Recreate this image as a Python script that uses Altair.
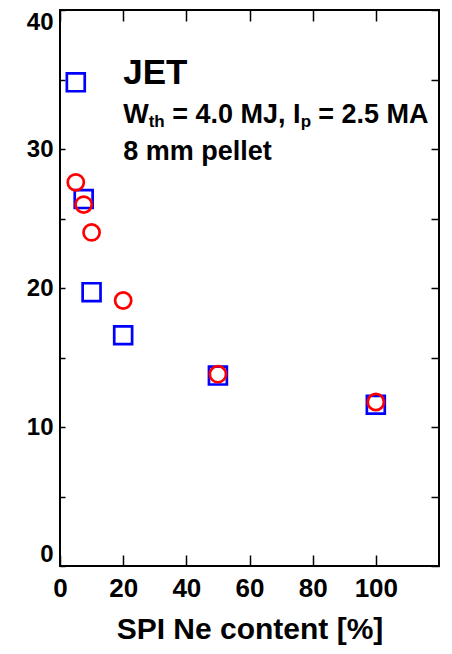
import altair as alt
import pandas as pd

# ---- data ----
ne_square = [5, 7.5, 10, 20, 50, 100]
val_square = [34.8, 26.4, 19.7, 16.6, 13.7, 11.6]
ne_circle = [5, 7.5, 10, 20, 50, 100]
val_circle = [27.6, 26.0, 24.0, 19.1, 13.8, 11.8]

x_ticks = [0, 20, 40, 60, 80, 100]
y_ticks = [0, 5, 10, 15, 20, 25, 30, 35, 40]
x_domain = [0, 120]
y_domain = [0, 40]

x_title = "SPI Ne content [%]"
ann_x = 20
ann_y = [34.7, 31.9, 29.2]
ann_line1 = "JET"
ann_line2 = ["W", "th", "= 4.0 MJ, I", "p", "= 2.5 MA"]
ann_line3 = "8 mm pellet"

FONT = "Liberation Sans, Arial, Helvetica, sans-serif"

sq = pd.DataFrame({"ne": ne_square, "val": val_square})
ci = pd.DataFrame({"ne": ne_circle, "val": val_circle})

xs = alt.Scale(domain=x_domain, nice=False, zero=False)
ys = alt.Scale(domain=y_domain, nice=False)

common_tick = dict(domain=False, grid=False, tickColor="black", tickWidth=1.5)

x_bottom = alt.Axis(orient="bottom", values=x_ticks, offset=-11, tickSize=11,
                    labelFont=FONT, labelFontSize=26, labelFontWeight="bold",
                    labelColor="black", labelPadding=9, labelFlush=False,
                    labelOverlap=False,
                    title=x_title, titleFont=FONT, titleFontSize=30,
                    titleFontWeight="bold", titleColor="black", titlePadding=13,
                    **common_tick)
x_top = alt.Axis(orient="top", values=x_ticks, offset=-11, tickSize=11,
                 labels=False, **common_tick)
y_left = alt.Axis(orient="left", values=y_ticks, offset=-5, tickSize=5,
                  labelFont=FONT, labelFontSize=24, labelFontWeight="bold",
                  labelColor="black", labelPadding=7, labelFlush=True,
                  labelOverlap=False,
                  labelExpr="datum.value % 10 === 0 ? datum.label : ''",
                  **common_tick)
y_right = alt.Axis(orient="right", values=y_ticks, offset=-8, tickSize=8,
                   labels=False, **common_tick)

squares = alt.Chart(sq).mark_point(
    shape="square", filled=False, size=320, strokeWidth=2.7,
    color="#0000ff", opacity=1
).encode(
    x=alt.X("ne:Q", scale=xs, axis=x_bottom),
    y=alt.Y("val:Q", scale=ys, axis=y_left, title=None),
)

circles = alt.Chart(ci).mark_point(
    shape="circle", filled=False, size=260, strokeWidth=2.7,
    color="#ff0000", opacity=1
).encode(
    x=alt.X("ne:Q", scale=xs, axis=x_top, title=None),
    y=alt.Y("val:Q", scale=ys, axis=y_right, title=None),
)


def text_layer(text, yval, size, dx=0, dy=0):
    df = pd.DataFrame({"x": [ann_x], "y": [yval]})
    return alt.Chart(df).mark_text(
        text=text, font=FONT, fontSize=size, fontWeight="bold", color="black",
        align="left", baseline="alphabetic", dx=dx, dy=dy
    ).encode(
        x=alt.X("x:Q", scale=xs, axis=None),
        y=alt.Y("y:Q", scale=ys, axis=None),
    )


t1 = text_layer(ann_line1, ann_y[0], 35)
t2a = text_layer(ann_line2[0], ann_y[1], 27, dx=0)
t2b = text_layer(ann_line2[1], ann_y[1], 17, dx=25.5, dy=4)
t2c = text_layer(ann_line2[2], ann_y[1], 27, dx=49)
t2d = text_layer(ann_line2[3], ann_y[1], 17, dx=177.5, dy=4)
t2e = text_layer(ann_line2[4], ann_y[1], 27, dx=195)
t3 = text_layer(ann_line3, ann_y[2], 27)

chart = alt.layer(
    squares, circles, t1, t2a, t2b, t2c, t2d, t2e, t3
).resolve_axis(
    x="independent", y="independent"
).properties(
    width=379, height=556,
    autosize=alt.AutoSizeParams(type="none"),
    padding={"left": 60, "top": 10, "right": 13, "bottom": 88},
    background="white",
).configure_view(
    stroke="black", strokeWidth=2
)

chart.save("out.html", embed_options={"renderer": "svg", "actions": False})
